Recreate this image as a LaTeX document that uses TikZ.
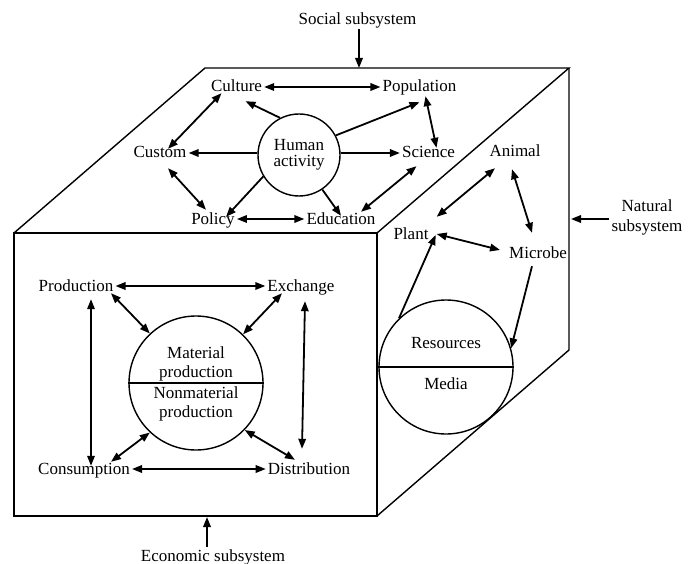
\documentclass[tikz,border=0pt]{standalone}
\usepackage{fontspec}
\setmainfont{Liberation Serif}
\usetikzlibrary{arrows.meta, positioning}

\begin{document}
\begin{tikzpicture}[
  x=1pt, y=-1pt,
  font=\fontsize{17}{19}\selectfont,
  edge/.style={line width=1.4pt, line join=miter},
  lbl/.style={anchor=base, inner sep=2pt, text height=12pt, text depth=2pt},
  txt/.style={align=center, inner sep=2pt},
  ring/.style={draw, circle, line width=1.4pt},
  arr/.style={-{Triangle[length=10pt,width=7.5pt]}, line width=1.8pt},
  darr/.style={{Triangle[length=10pt,width=7.5pt]}-{Triangle[length=10pt,width=7.5pt]}, line width=1.8pt}]
\useasboundingbox (0,0) rectangle (693,564);

% cube
\draw[edge] (14,233) rectangle (377,516);
\draw[edge] (14,233) -- (205,68) -- (569,68) -- (377,233);
\draw[edge] (569,68) -- (569,350) -- (377,516);

% social subsystem (top face)
\node[ring, txt, minimum size=82pt, font=\fontsize{17}{15.5}\selectfont] (hum) at (299,155) {Human\\activity};
\node[lbl] (cul) at (236.5,92) {Culture};
\node[lbl] (pop) at (419.5,92) {Population};
\node[lbl] (cus) at (160,158) {Custom};
\node[lbl] (sci) at (428.5,158) {Science};
\node[lbl] (pol) at (213,224) {Policy};
\node[lbl] (edu) at (341,224) {Education};

\draw[darr] (cul.east) -- (pop.west);
\draw[arr] (hum.117) -- ([xshift=9pt,yshift=-5pt]cul.south);
\draw[arr] (hum.28) -- ([yshift=-6pt]pop.south);
\draw[darr] ([xshift=6pt]pop.south) -- ([xshift=8pt,yshift=-4pt]sci.north);
\draw[arr] (hum.west |- cus.east) -- (cus.east);
\draw[arr] (hum.east |- sci.west) -- (sci.west);
\draw[darr] ([xshift=8pt,yshift=-5pt]cus.north) -- ([xshift=-15pt,yshift=3pt]cul.south);
\draw[darr] ([xshift=8pt,yshift=-6pt]cus.south) -- ([xshift=-7pt]pol.north);
\draw[arr] (hum.211) -- ([xshift=13pt,yshift=-7pt]pol.north);
\draw[arr] (hum.-56) -- ([yshift=-6pt]edu.north);
\draw[darr] (pol.east) -- (edu.west);
\draw[darr] ([xshift=20pt,yshift=-2pt]edu.north) -- ([xshift=-12pt,yshift=-4pt]sci.south);

% natural subsystem (right face)
\node[ring, minimum size=134pt] (resc) at (446,367) {};
\draw[edge] (resc.west) -- (resc.east);
\node[lbl] (resl) at ([yshift=19pt]resc.center) {Resources};
\node[lbl] (med) at ([yshift=-22pt]resc.center) {Media};
\node[lbl] (ani) at (515,157) {Animal};
\node[lbl] (pla) at (411,240) {Plant};
\node[lbl] (mic) at (538,258) {Microbe};

\draw[darr] ([xshift=-20pt,yshift=-7pt]ani.south) -- ([xshift=6pt,yshift=9pt]pla.north east);
\draw[darr] ([xshift=-3pt,yshift=-8pt]ani.south) -- ([xshift=-6pt,yshift=11pt]mic.north);
\draw[darr] ([xshift=6pt,yshift=1pt]pla.east) -- ([xshift=-7pt,yshift=3pt]mic.west);
\draw[arr] (resc.134) -- ([xshift=5pt]pla.east);
\draw[arr] ([xshift=-6pt,yshift=-4pt]mic.south) -- (resc.16);

% economic subsystem (front face)
\node[ring, minimum size=134pt] (ecoc) at (196,383) {};
\draw[edge] (ecoc.west) -- (ecoc.east);
\node[txt, anchor=south] (mat) at (ecoc.center) {Material\\production};
\node[txt, anchor=north] (non) at ([yshift=-2pt]ecoc.center) {Nonmaterial\\production};
\node[lbl] (pro) at (76,291) {Production};
\node[lbl] (exc) at (301,291) {Exchange};
\node[lbl] (con) at (84,474) {Consumption};
\node[lbl] (dis) at (309,474) {Distribution};

\draw[darr] (pro.east) -- (exc.west);
\draw[darr] ([xshift=35pt,yshift=2pt]pro.south) -- (ecoc.133);
\draw[darr] ([xshift=-19pt,yshift=2pt]exc.south) -- (ecoc.46);
\draw[darr] ([xshift=15pt,yshift=-4pt]pro.south) -- ([xshift=7pt,yshift=-6pt]con.north);
\draw[darr] ([xshift=4pt,yshift=-6pt]exc.south) -- ([xshift=-7pt,yshift=11pt]dis.north);
\draw[darr] ([xshift=27pt,yshift=-2pt]con.north) -- (ecoc.227);
\draw[darr] ([xshift=-14pt]dis.north) -- (ecoc.316);
\draw[darr] (con.east) -- (dis.west);

% subsystem labels
\node[lbl] (soclab) at (357.5,25) {Social subsystem};
\node[lbl] (ecolab) at (213,561) {Economic subsystem};
\node[txt, font=\fontsize{17}{20}\selectfont] (natlab) at (647,217) {Natural\\subsystem};
\coordinate (socpt) at (359,68);
\coordinate (ecopt) at (207,517);
\coordinate (natpt) at (571,219);
\draw[arr] (soclab.south -| socpt) -- (socpt);
\draw[arr] (ecolab.north -| ecopt) -- (ecopt);
\draw[arr] (natlab.west |- natpt) -- (natpt);
\end{tikzpicture}
\end{document}
